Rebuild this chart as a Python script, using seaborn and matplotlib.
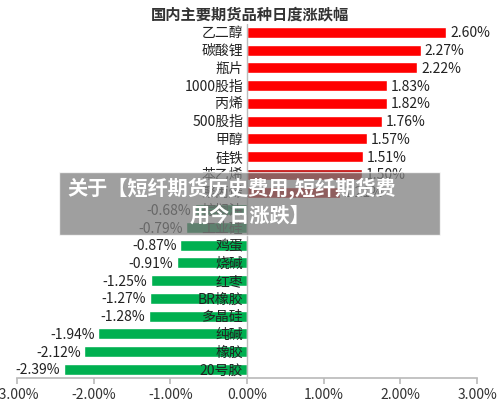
import matplotlib
matplotlib.use("Agg")
import matplotlib.pyplot as plt
import seaborn as sns
import pandas as pd

names = ["乙二醇", "碳酸锂", "瓶片", "1000股指", "丙烯", "500股指", "甲醇", "硅铁",
         "苯乙烯", "聚丙烯", "棕榈油", "工业硅", "鸡蛋", "烧碱", "红枣", "BR橡胶",
         "多晶硅", "纯碱", "橡胶", "20号胶"]
values = [2.60, 2.27, 2.22, 1.83, 1.82, 1.76, 1.57, 1.51,
          1.50, 1.21, -0.68, -0.79, -0.87, -0.91, -1.25, -1.27,
          -1.28, -1.94, -2.12, -2.39]
colors = ["#FF0000"] * 8 + ["#C00000"] * 2 + ["#00843D"] * 2 + ["#00B050"] * 8

sns.set_theme(style="white")
plt.rcParams['font.family'] = ['Noto Sans CJK SC', 'DejaVu Sans']

df = pd.DataFrame({"name": names, "value": values})
fig = plt.figure(figsize=(5.0, 4.1), dpi=100)
ax = fig.add_axes([0.034, 0.075, 0.92, 0.865])
sns.barplot(data=df, x="value", y="name", hue="name", palette=colors,
            legend=False, width=0.62, ax=ax, saturation=1)
ax.set_xlim(-3, 3)
ax.set_xticks([-3, -2, -1, 0, 1, 2, 3])
ax.set_xticklabels([f"{t:.2f}%" for t in ax.get_xticks()], fontsize=10, color="#333333")
ax.set_yticks([])
ax.set_xlabel("")
ax.set_ylabel("")
for s in ["top", "right", "left"]:
    ax.spines[s].set_visible(False)
ax.spines["bottom"].set_color("#bbbbbb")
ax.tick_params(axis="x", length=4, color="#bbbbbb", direction="out", bottom=True, pad=2)
ax.axvline(0, color="#bbbbbb", lw=1)

for i, (n, v) in enumerate(zip(names, values)):
    ax.text(-0.05, i, n, ha="right", va="center", fontsize=10, color="#222222")
    if v >= 0:
        ax.text(v + 0.05, i, f"{v:.2f}%", ha="left", va="center", fontsize=10, color="#222222")
    else:
        ax.text(v - 0.05, i, f"{v:.2f}%", ha="right", va="center", fontsize=10, color="#222222")

fig.text(0.5, 0.965, "国内主要期货品种日度涨跌幅", ha="center", va="center",
         fontsize=11, fontweight="bold", color="#333333")

# overlay banner
fig.patches.append(plt.Rectangle((0.118, 0.425), 0.762, 0.153, transform=fig.transFigure,
                                 facecolor="#7f7f7f", alpha=0.75, zorder=10))
fig.text(0.135, 0.54, "关于【短纤期货历史费用,短纤期货费", fontsize=14.5, fontweight="bold",
         color="white", ha="left", va="center", zorder=11)
fig.text(0.5, 0.475, "用今日涨跌】", fontsize=14.5, fontweight="bold",
         color="white", ha="center", va="center", zorder=11)

fig.savefig("out.png", dpi=100)
